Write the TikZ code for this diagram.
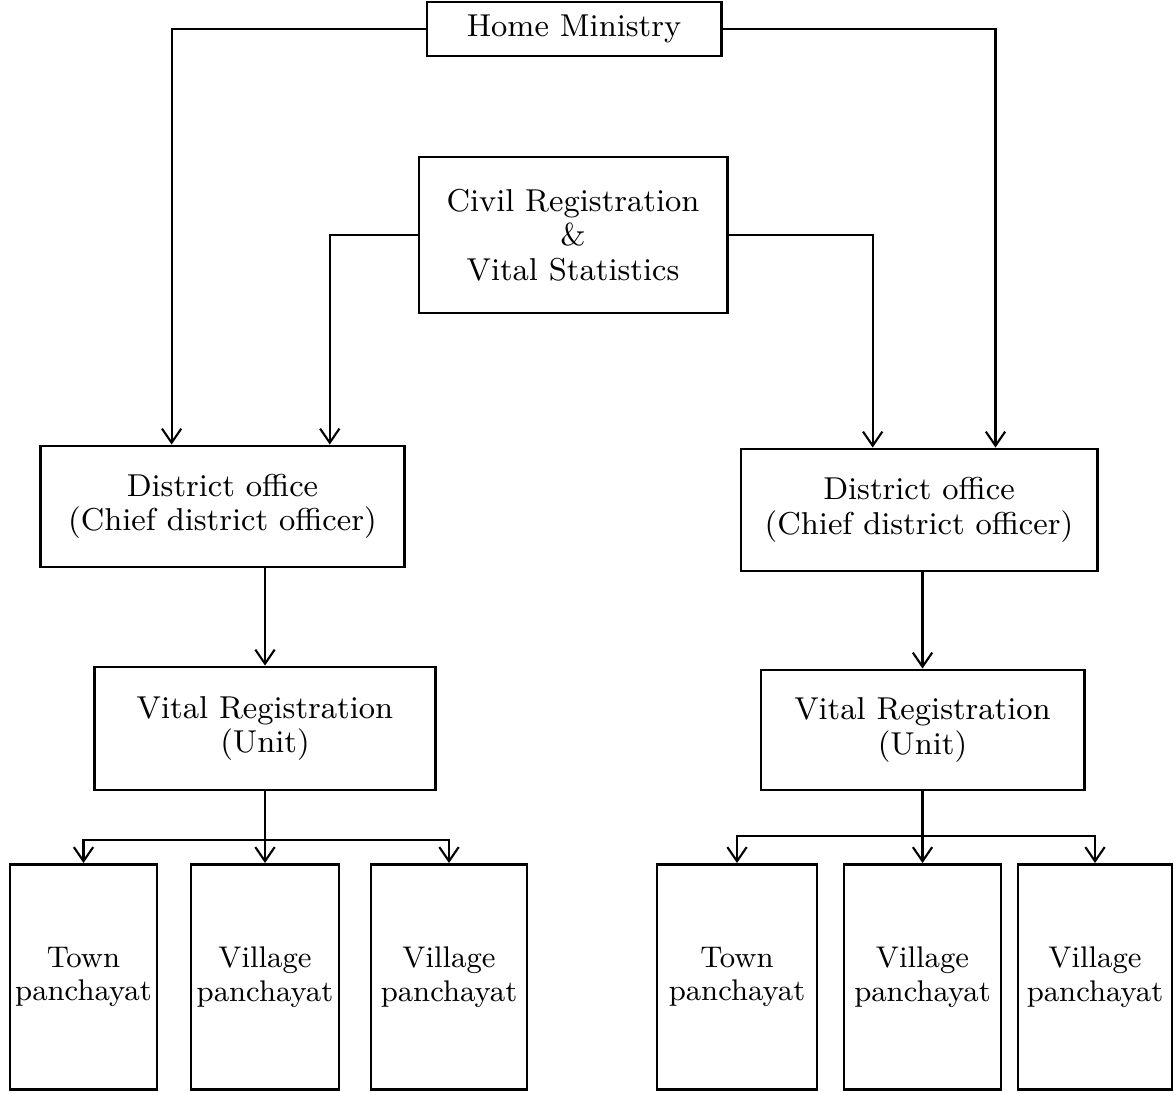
\documentclass[tikz,border=0pt]{standalone}
\usepackage{fontspec}
\usepackage{tikz}
\usetikzlibrary{arrows.meta, calc}

\begin{document}
\begin{tikzpicture}[x=0.01cm, y=-0.01cm, >={Straight Barb[length=4pt, width=5.5pt]},
    font={\fontsize{9}{9.8}\selectfont}]
\tikzset{office/.style={draw, line width=0.8pt, align=center, inner sep=0pt},
         local/.style={office, minimum height=2.25cm, font={\fontsize{8.5}{9.5}\selectfont}},
         link/.style={line width=0.6pt},
         feed/.style={link, ->}}
\useasboundingbox (0,0) rectangle (1174,1092);
% Top level
\node[office, minimum width=2.94cm, minimum height=0.54cm] (home) at (574,29)
    {\addfontfeature{LetterSpace=10}Home Ministry};
\node[office, minimum width=3.08cm, minimum height=1.56cm] (civil) at (573,235)
    {Civil Registration\\ \&\\ Vital Statistics};
% District offices
\node[office, minimum width=3.63cm, minimum height=1.21cm] (dl) at (222.5,506.5)
    {District office\\ (Chief district officer)};
\node[office, minimum width=3.56cm, minimum height=1.22cm] (dr) at (919,510)
    {District office\\ (Chief district officer)};
\draw[feed] (home.west) -| ($(dl.north west)!0.361!(dl.north east)$);
\draw[feed] (civil.west) -| ($(dl.north west)!0.793!(dl.north east)$);
\draw[feed] (home.east) -| ($(dr.north west)!0.713!(dr.north east)$);
\draw[feed] (civil.east) -| ($(dr.north west)!0.371!(dr.north east)$);
% Vital registration units
\node[office, minimum width=3.40cm, minimum height=1.23cm] (vl) at (265,728.5)
    {Vital Registration\\ (Unit)};
\node[office, minimum width=3.23cm, minimum height=1.20cm] (vr) at (922.5,730)
    {Vital Registration\\ (Unit)};
\draw[feed] (dl.south -| vl.north) -- (vl.north);
\draw[feed] (dr.south -| vr.north) -- (vr.north);
% Panchayats, left
\node[local, minimum width=1.47cm] (tl) at (83.5,977) {Town\\ panchayat};
\node[local, minimum width=1.48cm] (pl1) at (265,977) {Village\\ panchayat};
\node[local, minimum width=1.56cm] (pl2) at (449,977) {Village\\ panchayat};
\coordinate (lbar) at (265,840);
\draw[link] (vl.south) -- (lbar);
\foreach \b in {tl, pl1, pl2}
    \draw[feed] (lbar) -| (\b.north);
% Panchayats, right
\node[local, minimum width=1.60cm] (tr) at (737,977) {Town\\ panchayat};
\node[local, minimum width=1.57cm] (pr1) at (922.5,977) {Village\\ panchayat};
\node[local, minimum width=1.54cm] (pr2) at (1095,977) {Village\\ panchayat};
\coordinate (rbar) at (922.5,836);
\draw[link] (vr.south) -- (rbar);
\foreach \b in {tr, pr1, pr2}
    \draw[feed] (rbar) -| (\b.north);
\end{tikzpicture}
\end{document}
